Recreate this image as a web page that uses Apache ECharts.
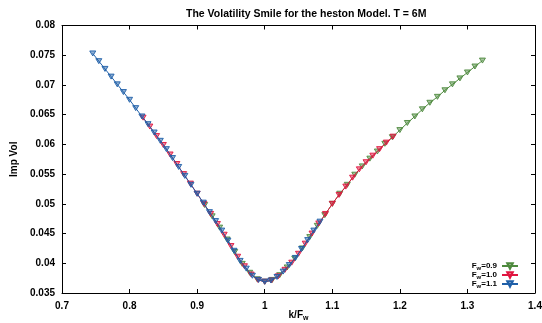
<!DOCTYPE html>
<html><head><meta charset="utf-8">
<script src="https://cdn.jsdelivr.net/npm/echarts@6/dist/echarts.min.js"></script>
<style>html,body{margin:0;padding:0;background:#fff}#c{width:542px;height:323px}</style>
</head><body><div id="c"></div>
<script>
// F_w = 0.9 series (k/F_w, implied vol)
const m09 = [0.9111,0.9222,0.9333,0.9444,0.9556,0.9667,0.9778,0.9889,1.0000,1.0111,1.0222,1.0333,1.0444,1.0556,1.0667,1.0778,1.0889,1.1000,1.1111,1.1222,1.1333,1.1444,1.1556,1.1667,1.1778,1.1889,1.2000,1.2111,1.2222,1.2333,1.2444,1.2556,1.2667,1.2778,1.2889,1.3000,1.3111,1.3222];
const v09 = [0.0498,0.0479,0.0460,0.0440,0.0419,0.0399,0.0384,0.0373,0.0369,0.0372,0.0380,0.0393,0.0408,0.0425,0.0444,0.0463,0.0481,0.0500,0.0517,0.0532,0.0549,0.0563,0.0576,0.0588,0.0601,0.0612,0.0624,0.0636,0.0647,0.0659,0.0670,0.0680,0.0691,0.0701,0.0711,0.0721,0.0731,0.0741];
// F_w = 1.0 series
const m10 = [0.82,0.83,0.84,0.85,0.86,0.87,0.88,0.89,0.90,0.91,0.92,0.93,0.94,0.95,0.96,0.97,0.98,0.99,1.00,1.01,1.02,1.03,1.04,1.05,1.06,1.07,1.08,1.09,1.10,1.11,1.12,1.13,1.14,1.15,1.16,1.17,1.18,1.19];
const v10 = [0.0645,0.0630,0.0614,0.0599,0.0583,0.0567,0.0550,0.0534,0.0517,0.0500,0.0483,0.0466,0.0448,0.0429,0.0411,0.0395,0.0381,0.0372,0.0369,0.0371,0.0378,0.0389,0.0401,0.0416,0.0433,0.0450,0.0467,0.0483,0.0500,0.0515,0.0529,0.0544,0.0558,0.0570,0.0581,0.0592,0.0603,0.0613];
// F_w = 1.1 series
const m11 = [0.7455,0.7545,0.7636,0.7727,0.7818,0.7909,0.8000,0.8091,0.8182,0.8273,0.8364,0.8455,0.8545,0.8636,0.8727,0.8818,0.8909,0.9000,0.9091,0.9182,0.9273,0.9364,0.9455,0.9545,0.9636,0.9727,0.9818,0.9909,1.0000,1.0091,1.0182,1.0273,1.0364,1.0455,1.0545,1.0636,1.0727,1.0818];
const v11 = [0.0753,0.0740,0.0727,0.0714,0.0701,0.0688,0.0675,0.0661,0.0647,0.0634,0.0620,0.0606,0.0592,0.0577,0.0562,0.0547,0.0532,0.0517,0.0502,0.0486,0.0471,0.0455,0.0438,0.0421,0.0404,0.0391,0.0379,0.0372,0.0369,0.0371,0.0377,0.0386,0.0397,0.0409,0.0424,0.0439,0.0455,0.0470];
const seriesNames = ['0.9','1.0','1.1'];
const colors = ['#4e8a3e','#e0153f','#1f5fa8'];
const xs = [m09,m10,m11], ys = [v09,v10,v11];

const font = 'Liberation Sans, Arial, Helvetica, sans-serif';
const tri = 'path://M0,0 L10,0 L5,9 Z';
const chart = echarts.init(document.getElementById('c'), null, {renderer:'canvas'});
const series = seriesNames.map((n,i)=>({
  name: n, type:'line', xAxisIndex:0, yAxisIndex:0,
  data: xs[i].map((x,j)=>[x, ys[i][j]]),
  symbol: tri, symbolSize:[6,5], showSymbol:true,
  lineStyle:{color:colors[i], width:1},
  itemStyle:{color:echarts.color.modifyAlpha(colors[i],0.5), borderColor:colors[i], borderWidth:0.9},
  emphasis:{disabled:true}, animation:false, z:2+i
}));
const lbl = {fontFamily:font, fontWeight:'bold', fontSize:10, color:'#000'};
chart.setOption({
  animation:false,
  title:{text:'The Volatility Smile for the heston Model. T = 6M', left:181, top:4,
    textStyle:{fontFamily:font, fontWeight:'bold', fontSize:10.5, color:'#000'}},
  grid:{left:62, right:7, top:25.5, bottom:30, outerBoundsMode:'none', containLabel:false},
  legend:{orient:'vertical', right:18, bottom:29, itemGap:0, itemWidth:16, itemHeight:7, align:'right',
    data: seriesNames,
    formatter: n => '{a|F}{s|w}{a|=' + n + '}',
    textStyle:{rich:{a:{fontFamily:font, fontWeight:'bold', fontSize:8, color:'#000'}, s:{fontFamily:font, fontWeight:'bold', fontSize:6, color:'#000', verticalAlign:'bottom', padding:[4,0,0,0]}}}},
  xAxis:[{type:'value', min:0.7, max:1.4, interval:0.1, position:'bottom',
      name:'{a|k/F}{s|w}', nameLocation:'middle', nameGap:16, nameMoveOverlap:false,
      nameTextStyle:{rich:{a:{fontFamily:font, fontWeight:'bold', fontSize:10, color:'#000'}, s:{fontFamily:font, fontWeight:'bold', fontSize:7, color:'#000', padding:[6,0,0,0]}}},
      axisLine:{show:true, lineStyle:{color:'#000', width:1}},
      axisTick:{show:true, inside:true, length:4, lineStyle:{color:'#000'}},
      axisLabel:Object.assign({margin:8, formatter:v=>+v.toFixed(1)+''}, lbl),
      splitLine:{show:false}},
    {type:'value', min:0.7, max:1.4, interval:0.1, position:'top',
      axisLine:{show:true, lineStyle:{color:'#000', width:1}},
      axisTick:{show:true, inside:true, length:4, lineStyle:{color:'#000'}},
      axisLabel:{show:false}, splitLine:{show:false}}],
  yAxis:[{type:'value', min:0.035, max:0.08, interval:0.005, position:'left',
      name:'Imp Vol', nameLocation:'middle', nameGap:43, nameMoveOverlap:false,
      nameTextStyle:{fontFamily:font, fontWeight:'bold', fontSize:10, color:'#000'},
      axisLine:{show:true, lineStyle:{color:'#000', width:1}},
      axisTick:{show:true, inside:true, length:4, lineStyle:{color:'#000'}},
      axisLabel:Object.assign({margin:7, formatter:v=>+v.toFixed(3)+''}, lbl),
      splitLine:{show:false}},
    {type:'value', min:0.035, max:0.08, interval:0.005, position:'right',
      axisLine:{show:true, lineStyle:{color:'#000', width:1}},
      axisTick:{show:true, inside:true, length:4, lineStyle:{color:'#000'}},
      axisLabel:{show:false}, splitLine:{show:false}}],
  series: series
});
</script></body></html>
